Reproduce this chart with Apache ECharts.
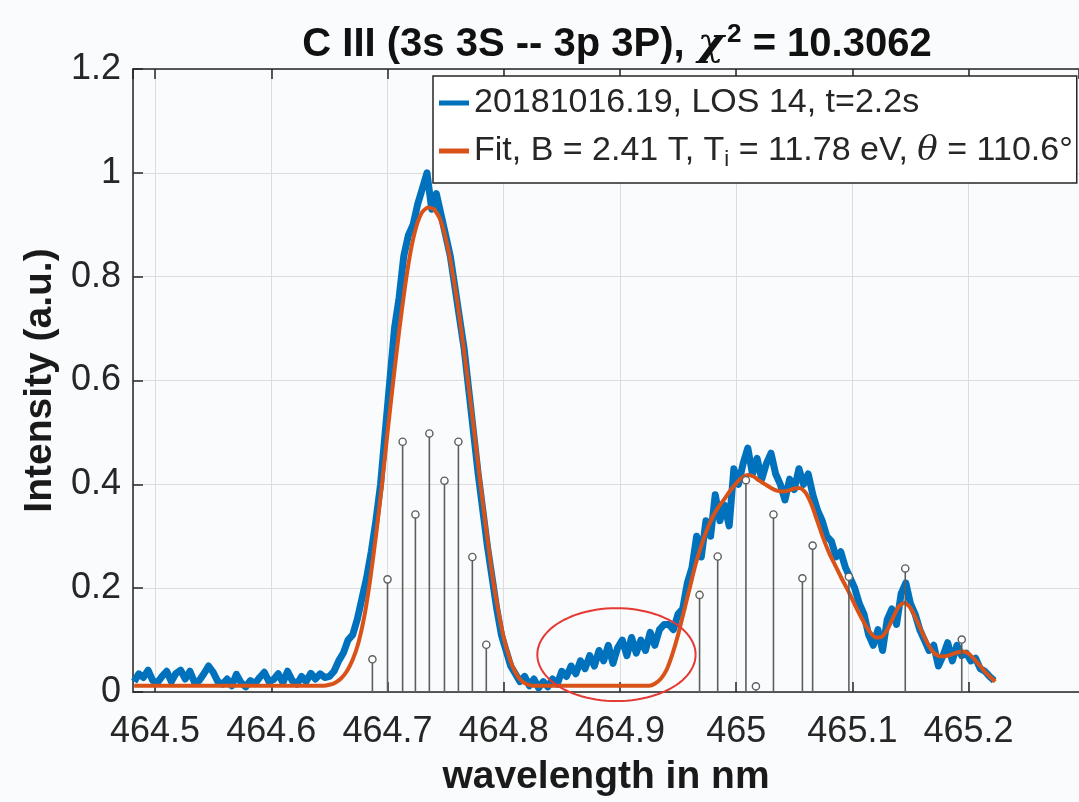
<!DOCTYPE html>
<html>
<head>
<meta charset="utf-8">
<script src="https://cdn.jsdelivr.net/npm/echarts@6/dist/echarts.min.js"></script>
<style>
html,body{margin:0;padding:0;background:#fafbfc;}
#chart{width:1079px;height:802px;}
</style>
</head>
<body>
<div id="chart"></div>
<script>
// ---------- DATA ----------
// measured spectrum: first wavelength and sampling step (nm), then intensities
const measStart = 464.482;
const measStep = 0.004;
const measIntensity = [
  0.020,0.035,0.028,0.042,0.022,0.018,0.030,0.040,0.020,0.036,
  0.042,0.025,0.040,0.018,0.022,0.035,0.050,0.038,0.020,0.015,
  0.025,0.012,0.034,0.018,0.010,0.022,0.016,0.028,0.038,0.020,
  0.024,0.035,0.018,0.040,0.022,0.015,0.030,0.020,0.036,0.025,
  0.035,0.028,0.030,0.040,0.060,0.075,0.100,0.110,0.140,0.180,
  0.22,0.27,0.33,0.40,0.50,0.60,0.70,0.76,0.84,0.88,
  0.90,0.94,0.97,1.00,0.93,0.96,0.92,0.88,0.84,0.78,
  0.72,0.66,0.58,0.50,0.42,0.35,0.28,0.22,0.16,0.11,
  0.08,0.05,0.035,0.02,0.03,0.012,0.025,0.008,0.02,0.01,
  0.025,0.015,0.04,0.03,0.05,0.035,0.06,0.045,0.07,0.05,
  0.08,0.06,0.09,0.055,0.085,0.10,0.07,0.105,0.075,0.10,
  0.08,0.115,0.09,0.12,0.13,0.13,0.12,0.15,0.16,0.21,
  0.24,0.30,0.26,0.33,0.30,0.38,0.33,0.36,0.32,0.43,
  0.40,0.44,0.47,0.42,0.45,0.41,0.44,0.46,0.42,0.40,
  0.37,0.41,0.39,0.43,0.40,0.42,0.38,0.35,0.33,0.30,
  0.29,0.26,0.27,0.24,0.22,0.20,0.17,0.15,0.11,0.09,
  0.12,0.08,0.14,0.16,0.13,0.19,0.21,0.17,0.15,0.12,
  0.10,0.08,0.09,0.05,0.07,0.095,0.06,0.09,0.07,0.075,
  0.06,0.065,0.045,0.04,0.03,0.022
];

// fit curve
const fitWl = [
  464.482,464.645,464.650,464.655,464.660,464.665,464.670,464.675,464.680,464.685,
  464.690,464.695,464.700,464.705,464.710,464.715,464.720,464.725,464.730,464.735,
  464.740,464.745,464.750,464.755,464.760,464.765,464.770,464.775,464.780,464.785,
  464.790,464.795,464.800,464.805,464.810,464.815,464.820,464.825,464.925,464.930,
  464.935,464.940,464.945,464.950,464.955,464.960,464.965,464.970,464.975,464.980,
  464.985,464.990,464.995,465.000,465.005,465.010,465.015,465.020,465.025,465.030,
  465.035,465.040,465.045,465.050,465.055,465.060,465.065,465.070,465.075,465.080,
  465.085,465.090,465.095,465.100,465.105,465.110,465.115,465.120,465.125,465.130,
  465.135,465.140,465.145,465.150,465.155,465.160,465.165,465.170,465.175,465.180,
  465.185,465.190,465.195,465.200,465.205,465.210,465.215,465.220,465.223
];
const fitIntensity = [
  0.012,0.012,0.014,0.018,0.026,0.040,0.062,0.095,0.145,0.215,
  0.300,0.395,0.500,0.600,0.695,0.780,0.850,0.898,0.925,0.933,
  0.930,0.912,0.875,0.820,0.752,0.672,0.585,0.495,0.400,0.312,
  0.228,0.160,0.105,0.065,0.038,0.022,0.015,0.012,0.012,0.016,
  0.025,0.042,0.072,0.110,0.155,0.200,0.245,0.282,0.313,0.338,
  0.357,0.372,0.388,0.402,0.413,0.418,0.415,0.407,0.400,0.393,
  0.388,0.386,0.388,0.392,0.393,0.383,0.360,0.328,0.296,0.268,
  0.245,0.222,0.201,0.178,0.155,0.134,0.116,0.105,0.106,0.120,
  0.143,0.165,0.172,0.162,0.140,0.115,0.092,0.076,0.069,0.069,
  0.072,0.076,0.078,0.074,0.063,0.050,0.037,0.026,0.020
];

// Zeeman components (stems)
const stemWl = [
  464.687,464.700,464.713,464.724,464.736,464.749,464.761,464.773,464.785,
  464.9685,464.9841,465.0084,465.0170,465.0321,465.0570,465.0658,465.0970,465.1455,465.1941
];
const stemIntensity = [
  0.063,0.217,0.482,0.342,0.498,0.407,0.482,0.260,0.091,
  0.187,0.261,0.408,0.011,0.342,0.219,0.282,0.222,0.238,0.101
];

// red annotation ellipse (data units): centre wavelength, centre intensity, half-width, half-height
const ellipseSpec = [464.897, 0.072, 0.0681, 0.0894];

const legendNames = ['20181016.19, LOS 14, t=2.2s', 'Fit, B = 2.41 T, T_i = 11.78 eV, θ = 110.6°'];

// ---------- CHART ----------
const measData = measIntensity.map((v, i) => [measStart + i * measStep, v]);
const fitData = fitWl.map((w, i) => [w, fitIntensity[i]]);
const stemData = stemWl.map((w, i) => [w, stemIntensity[i]]);

const chart = echarts.init(document.getElementById('chart'), null, {renderer: 'canvas'});
const AX = '#262626';
const FONT = 'Liberation Sans, Arial, Helvetica, sans-serif';

function tickFmt(v) {
  const t = Math.round(v * 10);
  if (Math.abs(v * 10 - t) > 1e-6) return '';
  return String(parseFloat((t / 10).toFixed(1)));
}

chart.setOption({
  backgroundColor: '#fafbfc',
  animation: false,
  textStyle: {fontFamily: FONT},
  title: {
    text: '{b|C III (3s 3S -- 3p 3P), }{chi|χ}{sup|2}{b| = 10.3062}',
    left: 612,
    top: 17,
    textAlign: 'center',
    textStyle: {
      rich: {
        b: {fontSize: 40, fontWeight: 'bold', color: '#111', fontFamily: FONT},
        chi: {fontSize: 40, fontStyle: 'italic', color: '#111', fontFamily: 'DejaVu Serif, serif', padding: [0, 3, 0, 2]},
        sup: {fontSize: 26, fontWeight: 'bold', color: '#111', fontFamily: FONT, verticalAlign: 'top', padding: [0, 0, 20, 0]}
      }
    }
  },
  legend: {
    orient: 'vertical',
    left: 433,
    top: 76,
    padding: [7, 4, 12, 6],
    itemGap: 8,
    itemWidth: 30,
    itemHeight: 5,
    icon: 'rect',
    backgroundColor: '#ffffff',
    borderColor: AX,
    borderWidth: 1.5,
    borderRadius: 0,
    data: legendNames,
    formatter: function (name) {
      if (name === legendNames[1]) {
        return 'Fit, B = 2.41 T, T{sub|i} = 11.78 eV, {it|θ} = 110.6°';
      }
      return name;
    },
    textStyle: {
      fontSize: 34,
      lineHeight: 40,
      color: AX,
      fontFamily: FONT,
      rich: {
        sub: {fontSize: 22, color: AX, fontFamily: FONT, verticalAlign: 'bottom', lineHeight: 40, padding: [18, 0, 0, 0]},
        it: {fontSize: 34, color: AX, fontStyle: 'italic', fontFamily: 'DejaVu Serif, serif', lineHeight: 40}
      }
    }
  },
  grid: {left: 133, top: 69, right: -4, bottom: 108, containLabel: false},
  xAxis: [{
    type: 'value',
    min: 464.481,
    max: 465.295,
    splitNumber: 8,
    name: 'wavelength in nm',
    nameLocation: 'middle',
    nameGap: 66,
    nameTextStyle: {fontSize: 39, fontWeight: 'bold', color: '#1a1a1a', fontFamily: FONT},
    axisLine: {show: true, lineStyle: {color: AX, width: 1.5}},
    axisTick: {show: true, inside: true, length: 10, lineStyle: {color: AX, width: 1.5}},
    axisLabel: {fontSize: 36, color: AX, margin: 22, formatter: tickFmt, showMinLabel: false, showMaxLabel: false, fontFamily: FONT},
    splitLine: {show: true, lineStyle: {color: '#dcdcdc', width: 1}}
  }, {
    type: 'value',
    position: 'top',
    min: 464.481,
    max: 465.295,
    splitNumber: 8,
    axisLine: {show: true, lineStyle: {color: AX, width: 1.5}},
    axisTick: {show: true, inside: true, length: 10, lineStyle: {color: AX, width: 1.5}},
    axisLabel: {show: false},
    splitLine: {show: false}
  }],
  yAxis: [{
    type: 'value',
    min: 0,
    max: 1.2,
    interval: 0.2,
    name: 'Intensity (a.u.)',
    nameLocation: 'middle',
    nameGap: 62,
    nameTextStyle: {fontSize: 39, fontWeight: 'bold', color: '#1a1a1a', fontFamily: FONT},
    axisLine: {show: true, lineStyle: {color: AX, width: 1.5}},
    axisTick: {show: true, inside: true, length: 10, lineStyle: {color: AX, width: 1.5}},
    axisLabel: {fontSize: 36, color: AX, margin: 12, fontFamily: FONT, formatter: v => String(parseFloat(v.toFixed(1)))},
    splitLine: {show: true, lineStyle: {color: '#dcdcdc', width: 1}}
  }],
  series: [{
    name: legendNames[0],
    type: 'line',
    data: measData,
    showSymbol: false,
    symbol: 'none',
    lineStyle: {color: '#0072BD', width: 7, join: 'round'},
    itemStyle: {color: '#0072BD'},
    z: 3
  }, {
    name: legendNames[1],
    type: 'line',
    data: fitData,
    showSymbol: false,
    symbol: 'none',
    smooth: 0.2,
    lineStyle: {color: '#D95319', width: 4},
    itemStyle: {color: '#D95319'},
    z: 4
  }, {
    name: 'stems',
    type: 'custom',
    data: stemData,
    encode: {x: 0, y: 1},
    z: 5,
    renderItem: function (params, api) {
      const top = api.coord([api.value(0), api.value(1)]);
      const base = api.coord([api.value(0), 0]);
      return {
        type: 'group',
        children: [{
          type: 'line',
          shape: {x1: base[0], y1: base[1], x2: top[0], y2: top[1] + 3.5},
          style: {stroke: '#5e5e5e', lineWidth: 1.6}
        }, {
          type: 'circle',
          shape: {cx: top[0], cy: top[1], r: 3.6},
          style: {fill: '#ffffff', stroke: '#5e5e5e', lineWidth: 1.4}
        }]
      };
    }
  }, {
    name: 'annotation',
    type: 'custom',
    data: [ellipseSpec],
    encode: {x: 0, y: 1},
    z: 6,
    clip: false,
    renderItem: function (params, api) {
      const c = api.coord([api.value(0), api.value(1)]);
      const s = api.size([api.value(2), api.value(3)]);
      const pts = [];
      for (let k = 0; k <= 96; k++) {
        const a = k / 96 * Math.PI * 2;
        pts.push([c[0] + s[0] * Math.cos(a), c[1] + s[1] * Math.sin(a)]);
      }
      return {
        type: 'polyline',
        shape: {points: pts},
        style: {stroke: '#e53935', lineWidth: 2, fill: null}
      };
    }
  }]
});
</script>
</body>
</html>
